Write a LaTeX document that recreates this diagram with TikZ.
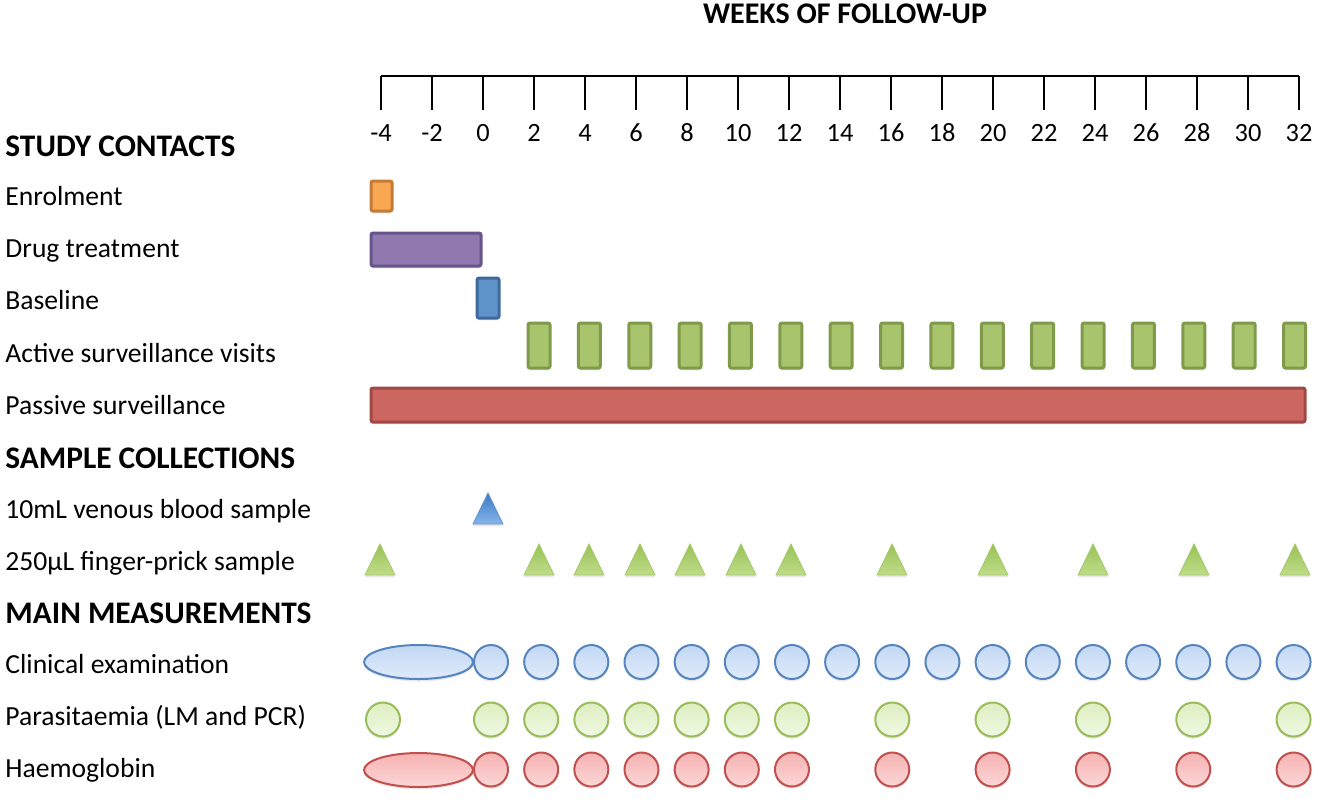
\documentclass[tikz,border=0pt]{standalone}
\usepackage{fontspec}
\setmainfont{Carlito}
\usetikzlibrary{shadows}
\definecolor{orfill}{HTML}{F9A752}\definecolor{ordraw}{HTML}{C47B35}
\definecolor{pufill}{HTML}{8F79AE}\definecolor{pudraw}{HTML}{67548A}
\definecolor{blfill}{HTML}{5F94CA}\definecolor{bldraw}{HTML}{3E6A9C}
\definecolor{grfill}{HTML}{A8C46C}\definecolor{grdraw}{HTML}{7E9A4A}
\definecolor{refill}{HTML}{CB6661}\definecolor{redraw}{HTML}{A14845}
\definecolor{cbtop}{HTML}{C3D8F4}\definecolor{cbbot}{HTML}{DFEBFA}\definecolor{cbdraw}{HTML}{5584BE}
\definecolor{cgtop}{HTML}{DCEFC0}\definecolor{cgbot}{HTML}{F0F8E3}\definecolor{cgdraw}{HTML}{9BBB59}
\definecolor{crtop}{HTML}{F6B2B2}\definecolor{crbot}{HTML}{FCD6D6}\definecolor{crdraw}{HTML}{C0504D}
\definecolor{tbtop}{HTML}{3B79C6}\definecolor{tbbot}{HTML}{86B5E8}
\definecolor{tgtop}{HTML}{98C255}\definecolor{tgbot}{HTML}{C0DD8A}
\tikzset{
  sh/.style={drop shadow={opacity=0.18,shadow xshift=0pt,shadow yshift=-1.2pt}},
  bar/.style={line width=1.5pt,rounded corners=1pt,sh},
  orbar/.style={bar,draw=ordraw,fill=orfill},
  pubar/.style={bar,draw=pudraw,fill=pufill},
  blbar/.style={bar,draw=bldraw,fill=blfill},
  grbar/.style={bar,draw=grdraw,fill=grfill},
  rebar/.style={bar,draw=redraw,fill=refill},
  cb/.style={line width=1pt,draw=cbdraw,top color=cbtop,bottom color=cbbot,sh},
  cg/.style={line width=1pt,draw=cgdraw,top color=cgtop,bottom color=cgbot,sh},
  cr/.style={line width=1pt,draw=crdraw,top color=crtop,bottom color=crbot,sh},
  tb/.style={line width=0.4pt,draw=tbtop!80,top color=tbtop,bottom color=tbbot,sh},
  tg/.style={line width=0.4pt,draw=tgtop!90,top color=tgtop,bottom color=tgbot,sh},
  hdr/.style={anchor=base west,inner sep=0pt,font=\fontsize{15.7}{18}\selectfont\bfseries},
  ttl/.style={anchor=base,inner sep=0pt,font=\fontsize{15}{18}\selectfont\bfseries},
  lbl/.style={anchor=base west,inner sep=0pt,font=\fontsize{13.8}{16}\selectfont},
  tck/.style={anchor=base,inner sep=0pt,font=\fontsize{13.2}{15}\selectfont},
}
\begin{document}
\begin{tikzpicture}[x=0.5pt,y=-0.5pt]
\useasboundingbox (0,0) rectangle (1320,800);
% title and axis
\node[ttl] (title) at (845,23) {WEEKS OF FOLLOW-UP};
\coordinate (axl) at (381,76);
\coordinate (axr) at (1299,76);
\draw[line width=1pt] (axl) -- (axr);
\foreach \w [count=\i from 0] in {-4,-2,...,32} {
  \pgfmathsetmacro{\xx}{381+51*\i}
  \draw[line width=1pt] (\xx,76) -- (\xx,110);
  \node[tck] (t\i) at (\xx,141) {\w};
}
% headers and labels
\node[hdr] (h1) at (5,156) {STUDY CONTACTS};
\node[lbl] (l1) at (5,205) {Enrolment};
\node[lbl] (l2) at (5,257) {Drug treatment};
\node[lbl] (l3) at (5,309) {Baseline};
\node[lbl] (l4) at (5,362) {Active surveillance visits};
\node[lbl] (l5) at (5,414) {Passive surveillance};
\node[hdr] (h2) at (5,468) {SAMPLE COLLECTIONS};
\node[lbl] (l6) at (5,518) {10mL venous blood sample};
\node[lbl] (l7) at (5,570) {250µL finger-prick sample};
\node[hdr] (h3) at (5,623) {MAIN MEASUREMENTS};
\node[lbl] (l8) at (5,673) {Clinical examination};
\node[lbl] (l9) at (5,725) {Parasitaemia (LM and PCR)};
\node[lbl] (l10) at (5,777) {Haemoglobin};
% study contacts bars
\draw[orbar] (371,181) rectangle (392,211);
\draw[pubar] (371,233) rectangle (481,266);
\draw[blbar] (477,278) rectangle (499,318);
\foreach \i in {0,...,15} {
  \pgfmathsetmacro{\xx}{539+50.37*\i}
  \draw[grbar] (\xx-11,323) rectangle (\xx+11,368);
}
\draw[rebar] (371,388) rectangle (1305,422);
% samples
\draw[tb] (473,524) -- (488,493) -- (503,524) -- cycle;
\foreach \xx in {380,539,589,640,690,741,791,892,993,1093,1194,1295} {
  \draw[tg] (\xx-15,575) -- (\xx,544) -- (\xx+15,575) -- cycle;
}
% measurements
\draw[cb] (418.5,662) ellipse[x radius=54.5,y radius=17];
\foreach \w in {0,2,...,32} {
  \pgfmathsetmacro{\xx}{491+25.08*\w}
  \draw[cb] (\xx,662) circle[radius=17];
}
\draw[cg] (383,719.5) circle[radius=17];
\foreach \w in {0,2,4,6,8,10,12,16,20,24,28,32} {
  \pgfmathsetmacro{\xx}{491+25.08*\w}
  \draw[cg] (\xx,719.5) circle[radius=17];
}
\draw[cr] (418.5,770) ellipse[x radius=54.5,y radius=17];
\foreach \w in {0,2,4,6,8,10,12,16,20,24,28,32} {
  \pgfmathsetmacro{\xx}{491+25.08*\w}
  \draw[cr] (\xx,769.5) circle[radius=17];
}
\end{tikzpicture}
\end{document}
